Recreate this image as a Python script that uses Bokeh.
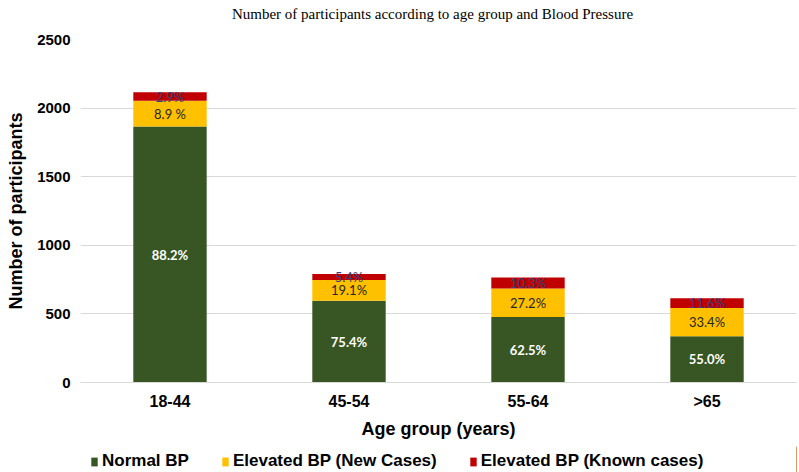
import numpy as np
from bokeh.plotting import figure
from bokeh.layouts import column
from bokeh.models import FactorRange, Legend, LegendItem, ColumnDataSource, FixedTicker, Label
from bokeh.core.properties import value
from bokeh.embed import file_html
from bokeh.resources import INLINE

categories = ["18-44", "45-54", "55-64", ">65"]
normal_bp = [1865, 596, 478, 338]
elevated_new = [188, 151, 208, 205]
elevated_known = [62, 43, 79, 71]
normal_labels = ["88.2%", "75.4%", "62.5%", "55.0%"]
new_labels = ["8.9 %", "19.1%", "27.2%", "33.4%"]
known_labels = ["2.9%", "5.4%", "10.3%", "11.6%"]
y_ticks = [0, 500, 1000, 1500, 2000, 2500]
series_names = ["Normal BP", "Elevated BP (New Cases)", "Elevated BP (Known cases)"]
colors = ["#375623", "#FFC000", "#C00000"]

title_text = "Number of participants according to age group and Blood Pressure"
x_title = "Age group (years)"
y_title = "Number of participants"

# ---- title strip ----
p0 = figure(width=799, height=26, x_range=(0, 1), y_range=(0, 1), output_backend="svg",
            toolbar_location=None, min_border=0, x_axis_location=None, y_axis_location=None)
p0.grid.visible = False
p0.outline_line_color = None
p0.add_layout(Label(x=352, y=13, x_units="screen", y_units="screen", text=title_text,
                    text_align="center", text_baseline="middle", text_font="Liberation Serif",
                    text_font_size="15px", text_color="black"))

# ---- main chart ----
src = ColumnDataSource(dict(cat=categories, normal=normal_bp, new=elevated_new, known=elevated_known))

p = figure(x_range=FactorRange(factors=categories, range_padding=0), y_range=(0, 2500),
           width=799, height=420, output_backend="svg", toolbar_location=None,
           min_border_left=80, min_border_right=3, min_border_top=13, min_border_bottom=64)

renderers = p.vbar_stack(["normal", "new", "known"], x="cat", width=0.41, color=colors,
                         line_color=None, source=src)

n = np.array(normal_bp, dtype=float)
e = np.array(elevated_new, dtype=float)
k = np.array(elevated_known, dtype=float)

p.text(x=categories, y=n / 2, text=normal_labels, text_align="center", text_baseline="middle",
       text_font=value("Lato"), text_font_style="bold", text_font_size="13px", text_color="white")
p.text(x=categories, y=n + e / 2, text=new_labels, text_align="center", text_baseline="middle",
       text_font=value("Lato"), text_font_size="13px", text_color="#262626")
p.text(x=categories, y=n + e + k / 2, text=known_labels, text_align="center", text_baseline="middle",
       text_font=value("Lato"), text_font_size="13px", text_color="#3A3F77")

p.outline_line_color = None
p.xgrid.grid_line_color = None
p.ygrid.grid_line_color = "#D9D9D9"
p.ygrid.grid_line_width = 1.2
p.yaxis.ticker = FixedTicker(ticks=y_ticks)
p.yaxis.axis_line_color = None
p.yaxis.major_tick_line_color = None
p.yaxis.minor_tick_line_color = None
p.yaxis.major_tick_out = 0
p.yaxis.major_label_standoff = 10
p.yaxis.major_label_text_font = "Liberation Sans"
p.yaxis.major_label_text_font_style = "bold"
p.yaxis.major_label_text_font_size = "15px"
p.yaxis.major_label_text_color = "black"
p.yaxis.axis_label = y_title
p.yaxis.axis_label_standoff = 8
p.yaxis.axis_label_text_font = "Liberation Sans"
p.yaxis.axis_label_text_font_style = "bold"
p.yaxis.axis_label_text_font_size = "18px"
p.yaxis.axis_label_text_color = "black"

p.xaxis.axis_line_color = "#D9D9D9"
p.xaxis.axis_line_width = 1.2
p.xaxis.major_tick_line_color = None
p.xaxis.minor_tick_line_color = None
p.xaxis.major_tick_out = 0
p.xaxis.major_label_standoff = 10
p.xaxis.major_label_text_font = "Liberation Sans"
p.xaxis.major_label_text_font_style = "bold"
p.xaxis.major_label_text_font_size = "16px"
p.xaxis.major_label_text_color = "black"
p.xaxis.axis_label = x_title
p.xaxis.axis_label_standoff = 6
p.xaxis.axis_label_text_font = "Liberation Sans"
p.xaxis.axis_label_text_font_style = "bold"
p.xaxis.axis_label_text_font_size = "18px"
p.xaxis.axis_label_text_color = "black"

# ---- legend strip ----
p2 = figure(width=799, height=26, x_range=(0, 1), y_range=(0, 1), output_backend="svg",
            toolbar_location=None, min_border=0, x_axis_location=None, y_axis_location=None)
p2.grid.visible = False
p2.outline_line_color = None
# swatch renderers sit outside the visible range; only their legend glyphs are shown
swatches = [p2.vbar(x=[5], top=[1], width=0.1, color=c, line_color=None) for c in colors]
legend = Legend(items=[LegendItem(label=nm, renderers=[r]) for nm, r in zip(series_names, swatches)],
                orientation="horizontal", location=(10, 1), border_line_color=None,
                background_fill_alpha=0, label_text_font="Liberation Sans", label_text_font_style="bold",
                label_text_font_size="17px", label_text_color="black", glyph_width=8, glyph_height=11,
                label_standoff=4, label_height=18, spacing=32, padding=0, margin=0)
p2.add_layout(legend)

layout = column(p0, p, p2, spacing=0)

open("out.html", "w").write(file_html(layout, INLINE))
